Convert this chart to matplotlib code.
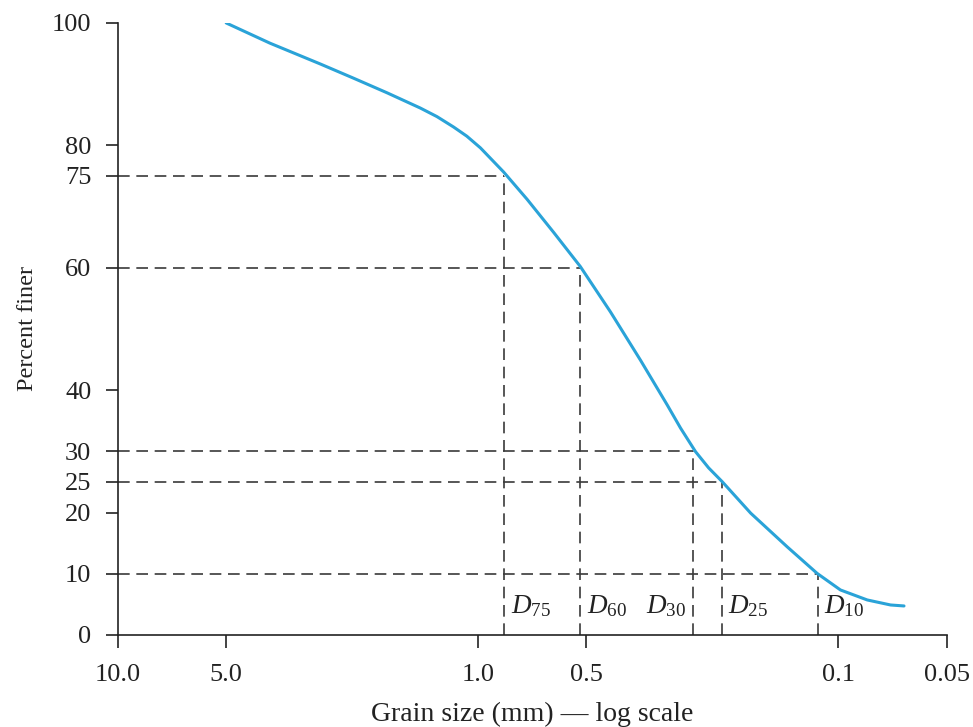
import matplotlib
matplotlib.use("Agg")
import matplotlib.pyplot as plt
from matplotlib.ticker import FixedLocator, NullLocator

# Data
grain_size_mm = [5.0, 3.78, 2.74, 2.22, 1.79, 1.446, 1.30, 1.169, 1.074, 0.985,
                 0.849, 0.731, 0.617, 0.520, 0.429, 0.354, 0.2985, 0.274, 0.249,
                 0.229, 0.210, 0.175, 0.1386, 0.1144, 0.0986, 0.0831, 0.0716,
                 0.0657]
percent_finer = [100, 96.7, 93.3, 91.0, 88.6, 86.1, 84.7, 83.0, 81.5, 79.6,
                 75.65, 71.2, 65.8, 60.2, 52.8, 44.9, 37.6, 33.8, 29.95,
                 27.3, 25.05, 19.9, 14.4, 10.05, 7.35, 5.72, 4.9,
                 4.74]

d_labels = ["75", "60", "30", "25", "10"]
d_percent = [75, 60, 30, 25, 10]
d_size = [0.845, 0.521, 0.2527, 0.2107, 0.1142]

x_ticks = [10.0, 5.0, 1.0, 0.5, 0.1, 0.05]
x_ticklabels = ["10.0", "5.0", "1.0", "0.5", "0.1", "0.05"]
y_ticks = [0, 10, 20, 25, 30, 40, 60, 75, 80, 100]

plt.rcParams['font.family'] = ['Liberation Serif', 'DejaVu Serif']
plt.rcParams['mathtext.fontset'] = 'custom'
plt.rcParams['mathtext.rm'] = 'Liberation Serif'
plt.rcParams['mathtext.it'] = 'Liberation Serif:italic'

fig = plt.figure(figsize=(9.73, 7.27), dpi=100)
ax = fig.add_axes([0.121, 0.1266, 0.852, 0.8418])

ax.set_xscale('log')
ax.set_xlim(10.0, 0.05)
ax.set_ylim(0, 100)

dash_kw = dict(color='#3a3a3a', lw=1.2, dashes=(7, 4))
for lab, p, d in zip(d_labels, d_percent, d_size):
    ax.plot([10.0, d], [p, p], **dash_kw)
    ax.plot([d, d], [0, p], **dash_kw)
    if lab == "30":
        ax.annotate(r'$D_{%s}$' % lab, xy=(d, 0), xytext=(-5, 16),
                    textcoords='offset points', ha='right', va='baseline',
                    fontsize=19.5, color='#222222')
    else:
        ax.annotate(r'$D_{%s}$' % lab, xy=(d, 0), xytext=(4.8, 16),
                    textcoords='offset points', ha='left', va='baseline',
                    fontsize=19.5, color='#222222')

ax.plot(grain_size_mm, percent_finer, color='#2aa3d8', lw=2.2,
        solid_capstyle='round', solid_joinstyle='round')

ax.xaxis.set_major_locator(FixedLocator(x_ticks))
ax.xaxis.set_minor_locator(NullLocator())
ax.set_xticklabels(x_ticklabels)
ax.set_yticks(y_ticks)

for s in ['top', 'right']:
    ax.spines[s].set_visible(False)
for s in ['left', 'bottom']:
    ax.spines[s].set_linewidth(1.2)
    ax.spines[s].set_color('#222222')

ax.tick_params(axis='both', direction='out', length=9, width=1.2, color='#222222',
               labelsize=19, labelcolor='#222222')
ax.tick_params(axis='y', pad=10)
ax.tick_params(axis='x', pad=12)

ax.set_xlabel('Grain size (mm) — log scale', fontsize=20, color='#222222', labelpad=11)
ax.set_ylabel('Percent finer', fontsize=17.5, color='#222222', labelpad=10)

fig.savefig('out.png', dpi=100)
